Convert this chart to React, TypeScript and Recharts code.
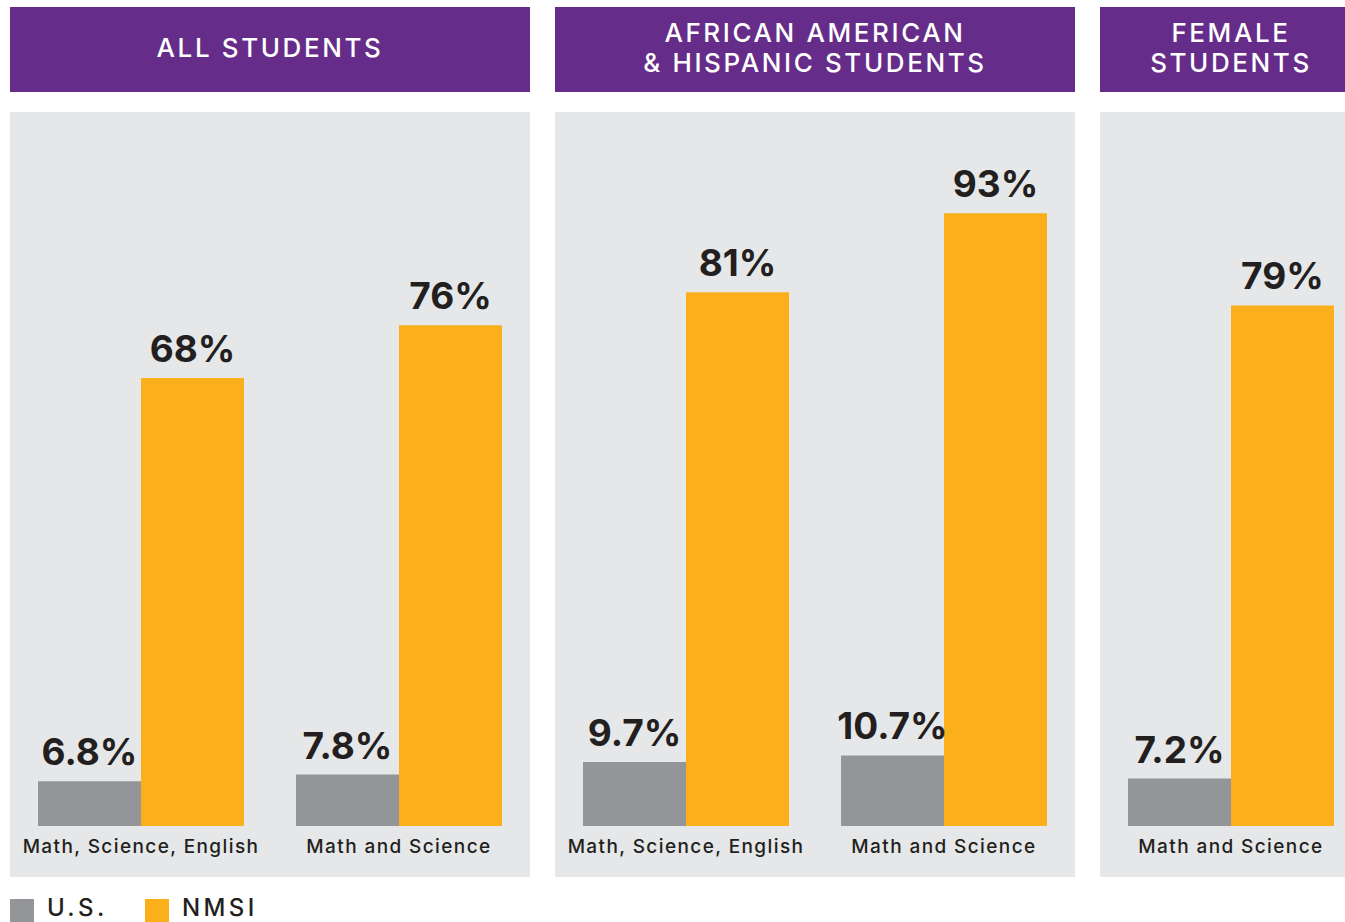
import { BarChart, Bar, XAxis, YAxis, LabelList } from "recharts";

const allCategories = ["Math, Science, English", "Math and Science"];
const allUS = [6.8, 7.8];
const allNMSI = [68, 76];

const aahCategories = ["Math, Science, English", "Math and Science"];
const aahUS = [9.7, 10.7];
const aahNMSI = [81, 93];

const femaleCategories = ["Math and Science"];
const femaleUS = [7.2];
const femaleNMSI = [79];

const GRAY = "#939598";
const ORANGE = "#FBB01B";
const PANEL = "#E6E7E8";
const PURPLE = "#652D89";
const INK = "#231F20";
const FONT = "Inter, 'Open Sans', sans-serif";

function buildRows(cats: string[], us: number[], nmsi: number[]) {
  return cats.map((c, i) => ({ cat: c, us: us[i], nmsi: nmsi[i] }));
}

function ValueLabel(props: any) {
  const { x, y, width, value } = props;
  return (
    <text
      x={x + width / 2}
      y={y - 16}
      textAnchor="middle"
      fill={INK}
      fontFamily={FONT}
      fontWeight={700}
      fontSize={37}
    >
      {`${value}%`}
    </text>
  );
}

function CatTick(props: any) {
  const { x, y, payload } = props;
  return (
    <text
      x={x}
      y={y + 19}
      textAnchor="middle"
      fill={INK}
      fontFamily={FONT}
      fontWeight={500}
      fontSize={19}
      style={{ letterSpacing: 1.4 }}
    >
      {payload.value}
    </text>
  );
}

function Panel({
  left,
  width,
  chartWidth,
  title,
  rows,
}: {
  left: number;
  width: number;
  chartWidth: number;
  title: string[];
  rows: { cat: string; us: number; nmsi: number }[];
}) {
  return (
    <>
      <div
        style={{
          position: "absolute",
          left,
          top: 7,
          width: chartWidth + 4,
          height: 85,
          background: PURPLE,
          color: "#fff",
          display: "flex",
          flexDirection: "column",
          justifyContent: "center",
          alignItems: "center",
          fontFamily: FONT,
          fontWeight: 500,
          fontSize: 26,
          lineHeight: "30px",
          letterSpacing: 2.6,
          paddingBottom: 4,
          boxSizing: "border-box",
        }}
      >
        {title.map((t) => (
          <div key={t}>{t}</div>
        ))}
      </div>
      <div
        style={{
          position: "absolute",
          left,
          top: 112,
          width,
          height: 765,
          background: PANEL,
          overflow: "hidden",
        }}
      >
        <div style={{ position: "absolute", left: 2, top: 0 }}>
          <BarChart
            width={chartWidth}
            height={765}
            data={rows}
            margin={{ top: 55, right: 0, left: 0, bottom: 0 }}
            barGap={0}
            barSize={103}
          >
            <YAxis hide domain={[0, 100]} />
            <XAxis
              dataKey="cat"
              height={51}
              axisLine={false}
              tickLine={false}
              tick={<CatTick />}
              interval={0}
            />
            <Bar dataKey="us" fill={GRAY} isAnimationActive={false}>
              <LabelList dataKey="us" content={<ValueLabel />} />
            </Bar>
            <Bar dataKey="nmsi" fill={ORANGE} isAnimationActive={false}>
              <LabelList dataKey="nmsi" content={<ValueLabel />} />
            </Bar>
          </BarChart>
        </div>
      </div>
    </>
  );
}

export default function App() {
  return (
    <div
      style={{
        position: "absolute",
        left: 0,
        top: 0,
        width: 1345,
        height: 922,
        background: "#fff",
        overflow: "hidden",
      }}
    >
      <Panel
        left={10}
        width={520}
        chartWidth={516}
        title={["ALL STUDENTS"]}
        rows={buildRows(allCategories, allUS, allNMSI)}
      />
      <Panel
        left={555}
        width={520}
        chartWidth={516}
        title={["AFRICAN AMERICAN", "& HISPANIC STUDENTS"]}
        rows={buildRows(aahCategories, aahUS, aahNMSI)}
      />
      <Panel
        left={1100}
        width={245}
        chartWidth={258}
        title={["FEMALE", "STUDENTS"]}
        rows={buildRows(femaleCategories, femaleUS, femaleNMSI)}
      />
      <div
        style={{
          position: "absolute",
          left: 10,
          top: 896,
          height: 24,
          display: "flex",
          alignItems: "flex-start",
          fontFamily: FONT,
          fontWeight: 500,
          fontSize: 24,
          letterSpacing: 3.4,
          color: INK,
          lineHeight: "24px",
        }}
      >
        <div style={{ width: 24, height: 23, marginTop: 3, background: GRAY }} />
        <div style={{ marginLeft: 13, width: 98 }}>U.S.</div>
        <div style={{ width: 24, height: 23, marginTop: 3, background: ORANGE }} />
        <div style={{ marginLeft: 13 }}>NMSI</div>
      </div>
    </div>
  );
}
